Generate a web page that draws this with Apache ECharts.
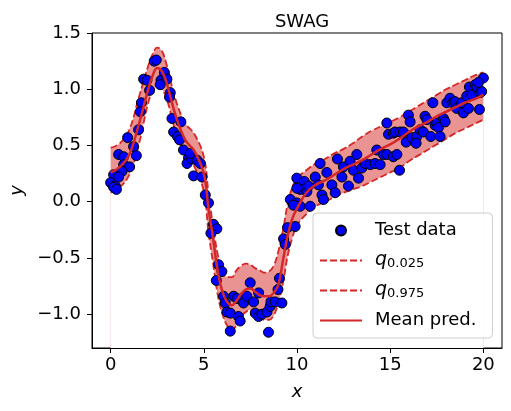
<!DOCTYPE html>
<html>
<head>
<meta charset="utf-8">
<script src="https://cdn.jsdelivr.net/npm/echarts@6/dist/echarts.min.js"></script>
<style>
  html, body { margin: 0; padding: 0; background: #fff; }
  #chart { width: 511px; height: 411px; }
</style>
</head>
<body>
<div id="chart"></div>
<script>
// test data (x, y)
var testX = [2.34, 2.45, 1.77, 1.95, 2.09, 2.70, 2.88, 3.02, 2.66, 3.20, 3.16, 1.65, 1.59, 1.50, 0.91, 1.23,
  0.43, 0.70, 1.38, 0.70, 1.02, 0.61, 0.16, 0.43, 0.00, 0.25, 3.29, 3.77, 3.38, 3.59, 3.70, 3.91,
  4.18, 4.10, 4.36, 4.63, 4.45, 4.90, 0.16, 0.31, 4.27, 4.81, 5.08, 5.25, 5.52, 5.70, 5.38, 5.79,
  5.97, 5.67, 6.06, 6.15, 6.24, 6.42, 6.42, 6.86, 6.95, 6.60, 6.78, 7.13, 7.31, 7.49, 7.67, 7.94,
  7.76, 7.94, 8.12, 8.39, 8.56, 8.60, 8.83, 9.19, 8.98, 9.06, 8.47, 9.28, 9.37, 9.49, 9.90, 9.64,
  9.99, 10.17, 9.99, 10.39, 10.17, 10.53, 10.71, 10.98, 11.24, 11.15, 11.34, 11.42, 11.60, 9.81, 9.99, 10.62,
  11.87, 12.05, 12.17, 12.49, 12.41, 12.76, 12.85, 13.03, 13.21, 13.30, 13.48, 13.66, 13.93, 14.28, 14.19, 14.46,
  14.64, 14.82, 15.17, 15.36, 15.50, 14.82, 14.91, 15.17, 15.27, 15.53, 15.71, 15.86, 15.98, 16.07, 16.16, 16.43,
  16.39, 16.61, 16.78, 16.87, 16.97, 17.18, 17.29, 17.41, 17.50, 17.59, 17.68, 17.86, 17.95, 18.04, 18.21, 18.36,
  18.48, 18.57, 18.84, 18.93, 19.11, 19.20, 19.25, 19.38, 19.56, 19.65, 19.82, 19.79, 19.91, 20.00, 19.73];
var testY = [1.25, 1.26, 1.09, 1.08, 0.99, 1.08, 1.15, 1.09, 1.04, 0.97, 0.93, 0.88, 0.80, 0.64, 0.57, 0.49,
  0.42, 0.40, 0.41, 0.33, 0.31, 0.27, 0.24, 0.22, 0.17, 0.14, 0.74, 0.71, 0.62, 0.58, 0.55, 0.46,
  0.39, 0.34, 0.38, 0.37, 0.23, 0.22, 0.13, 0.11, 0.43, 0.34, 0.06, -0.01, -0.20, -0.24, -0.28, -0.56,
  -0.62, -0.70, -0.84, -0.90, -0.98, -1.15, -0.99, -1.02, -1.06, -0.84, -0.86, -0.90, -0.84, -0.72, -0.89, -0.81,
  -0.99, -1.02, -1.00, -0.98, -0.93, -0.89, -0.89, -0.90, -0.78, -0.68, -1.16, -0.33, -0.38, -0.23, -0.22, 0.02,
  -0.01, -0.04, 0.21, 0.18, 0.11, 0.09, -0.04, 0.22, 0.34, 0.15, 0.06, 0.02, 0.26, -0.03, 0.12, 0.14,
  0.15, 0.08, 0.38, 0.31, 0.22, 0.14, 0.36, 0.28, 0.42, 0.21, 0.30, 0.34, 0.33, 0.46, 0.34, 0.33,
  0.42, 0.42, 0.40, 0.42, 0.28, 0.70, 0.60, 0.61, 0.62, 0.62, 0.62, 0.53, 0.77, 0.71, 0.57, 0.58,
  0.52, 0.64, 0.62, 0.76, 0.73, 0.58, 0.88, 0.68, 0.70, 0.66, 0.58, 0.74, 0.71, 0.88, 0.92, 0.88,
  0.89, 0.83, 0.88, 0.79, 0.94, 0.83, 1.02, 0.95, 1.04, 1.02, 0.97, 0.82, 0.98, 1.10, 1.06];

// prediction grid
var gridX = [0, 0.5, 1, 1.5, 2, 2.25, 2.5, 2.75, 3, 3.5, 4, 4.5, 5, 5.25, 5.5, 5.75, 6, 6.25, 6.5, 6.75,
  7, 7.25, 7.5, 7.75, 8, 8.25, 8.5, 8.75, 9, 9.25, 9.5, 9.75, 10, 10.5, 11, 11.5, 12, 12.5, 13, 13.5,
  14, 14.5, 15, 15.5, 16, 16.5, 17, 17.5, 18, 18.5, 19, 19.5, 20];
var meanY = [0.26, 0.31, 0.42, 0.68, 0.99, 1.12, 1.19, 1.16, 1.06, 0.76, 0.55, 0.45, 0.25, -0.06, -0.33, -0.62, -0.80, -0.89, -0.92, -0.88,
  -0.82, -0.78, -0.77, -0.80, -0.83, -0.84, -0.84, -0.81, -0.74, -0.52, -0.30, -0.15, -0.06, 0.08, 0.15, 0.19, 0.24, 0.29, 0.33, 0.37,
  0.42, 0.47, 0.51, 0.56, 0.62, 0.67, 0.71, 0.76, 0.80, 0.84, 0.88, 0.91, 0.95];
var lowerY = [0.08, 0.13, 0.24, 0.50, 0.87, 0.98, 1.03, 1.00, 0.92, 0.62, 0.43, 0.31, 0.09, -0.27, -0.55, -0.83, -1.00, -1.10, -1.14, -1.10,
  -1.02, -0.98, -0.96, -0.99, -1.03, -1.05, -1.05, -1.01, -0.90, -0.72, -0.48, -0.32, -0.21, -0.11, -0.04, 0.00, 0.04, 0.08, 0.11, 0.14,
  0.18, 0.22, 0.26, 0.30, 0.36, 0.41, 0.46, 0.51, 0.56, 0.61, 0.65, 0.69, 0.73];
var upperY = [0.48, 0.52, 0.64, 0.92, 1.20, 1.31, 1.37, 1.34, 1.22, 0.90, 0.70, 0.60, 0.40, 0.08, -0.22, -0.47, -0.62, -0.67, -0.67, -0.61,
  -0.57, -0.55, -0.56, -0.59, -0.61, -0.63, -0.62, -0.57, -0.44, -0.25, -0.02, 0.13, 0.21, 0.28, 0.34, 0.38, 0.43, 0.47, 0.52, 0.58,
  0.63, 0.67, 0.71, 0.75, 0.80, 0.85, 0.90, 0.95, 1.00, 1.04, 1.08, 1.12, 1.15];

var xTicks = [0, 5, 10, 15, 20];
var yTicks = [-1.0, -0.5, 0.0, 0.5, 1.0, 1.5];

var red = '#d62728';
var bandColor = '#ea9393';
var font = 'DejaVu Sans';
var smooth = 0.4;

function pairs(xs, ys) {
  return xs.map(function (x, i) { return [x, ys[i]]; });
}

var chart = echarts.init(document.getElementById('chart'));
chart.setOption({
  animation: false,
  title: {
    text: 'SWAG',
    left: 297,
    top: 8,
    textAlign: 'center',
    textStyle: { fontFamily: font, fontSize: 18, fontWeight: 'normal', color: '#000' }
  },
  grid: {
    left: 92, right: 9, top: 33, bottom: 63,
    show: true, borderColor: '#000', borderWidth: 1, backgroundColor: 'transparent'
  },
  xAxis: {
    type: 'value', min: -1, max: 21, z: 10,
    name: 'x', nameLocation: 'middle', nameGap: 35,
    nameTextStyle: { fontFamily: font, fontSize: 18, fontStyle: 'italic', color: '#000' },
    axisLine: { onZero: false, lineStyle: { color: '#000', width: 1 } },
    axisTick: { customValues: xTicks, length: 5, lineStyle: { color: '#000' } },
    axisLabel: { customValues: xTicks, margin: 8, fontFamily: font, fontSize: 18, color: '#000' },
    splitLine: { show: false }
  },
  yAxis: {
    type: 'value', min: -1.3, max: 1.5, z: 10,
    name: 'y', nameLocation: 'middle', nameGap: 62, nameRotate: 90,
    nameTextStyle: { fontFamily: font, fontSize: 18, fontStyle: 'italic', color: '#000' },
    axisLine: { onZero: false, lineStyle: { color: '#000', width: 1 } },
    axisTick: { customValues: yTicks, length: 5, lineStyle: { color: '#000' } },
    axisLabel: {
      customValues: yTicks, margin: 11, fontFamily: font, fontSize: 18, color: '#000',
      formatter: function (v) { return (v < 0 ? '\u2212' : '') + Math.abs(v).toFixed(1); }
    },
    splitLine: { show: false }
  },
  legend: {
    data: [
      { name: 'Test data' },
      { name: 'q0.025', itemStyle: { opacity: 0 } },
      { name: 'q0.975', itemStyle: { opacity: 0 } },
      { name: 'Mean pred.', itemStyle: { opacity: 0 } }
    ],
    orient: 'vertical',
    left: 313, top: 213, z: 20,
    padding: [7, 16, 7, 6],
    itemWidth: 42, itemHeight: 10, itemGap: 9,
    backgroundColor: 'rgba(255,255,255,0.8)',
    borderColor: '#cccccc', borderWidth: 1, borderRadius: 4,
    textStyle: {
      fontFamily: font, fontSize: 18, color: '#000', lineHeight: 21, padding: [0, 0, 0, 8],
      rich: {
        q: { fontFamily: font, fontSize: 19, fontStyle: 'italic', color: '#000' },
        s: { fontFamily: font, fontSize: 13, color: '#000', padding: [7, 0, 0, 0] }
      }
    },
    formatter: function (name) {
      return name.charAt(0) === 'q' ? '{q|q}{s|' + name.slice(1) + '}' : name;
    }
  },
  series: [
    // band: fill below upper bound, then cover below lower bound with white
    {
      name: 'band upper', type: 'line', data: pairs(gridX, upperY), smooth: smooth, symbol: 'none',
      lineStyle: { opacity: 0 }, areaStyle: { color: bandColor, opacity: 1, origin: 'start' },
      silent: true, z: 1
    },
    {
      name: 'band lower', type: 'line', data: pairs(gridX, lowerY), smooth: smooth, symbol: 'none',
      lineStyle: { opacity: 0 }, areaStyle: { color: '#fff', opacity: 1, origin: 'start' },
      silent: true, z: 1
    },
    {
      name: 'q0.025', type: 'line', data: pairs(gridX, lowerY), smooth: smooth, symbol: 'none',
      itemStyle: { color: red }, lineStyle: { color: red, width: 1.8, type: [7, 3] }, z: 2
    },
    {
      name: 'q0.975', type: 'line', data: pairs(gridX, upperY), smooth: smooth, symbol: 'none',
      itemStyle: { color: red }, lineStyle: { color: red, width: 1.8, type: [7, 3] }, z: 2
    },
    {
      name: 'Test data', type: 'scatter', data: pairs(testX, testY),
      symbol: 'circle', symbolSize: 10,
      itemStyle: { color: '#0000ff', borderColor: '#000', borderWidth: 1, opacity: 1 }, z: 3
    },
    {
      name: 'Mean pred.', type: 'line', data: pairs(gridX, meanY), smooth: smooth, symbol: 'none',
      itemStyle: { color: red }, lineStyle: { color: red, width: 2.5 }, z: 4
    }
  ]
});
</script>
</body>
</html>
